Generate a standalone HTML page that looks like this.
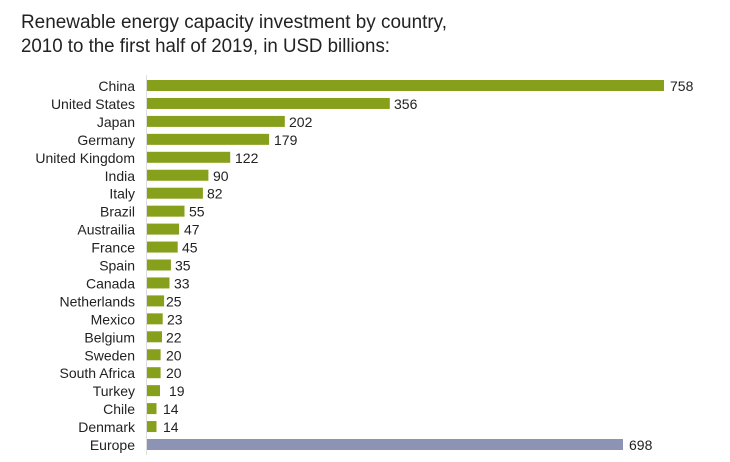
<!DOCTYPE html>
<html>
<head>
<meta charset="utf-8">
<style>
html,body{margin:0;padding:0;background:#fff;}
svg{display:block;}
text{font-family:"Liberation Sans",sans-serif;fill:#222;}
</style>
</head>
<body>
<svg width="730" height="462" viewBox="0 0 730 462" xmlns="http://www.w3.org/2000/svg">
<text x="21" y="28" font-size="19" textLength="426" lengthAdjust="spacingAndGlyphs">Renewable energy capacity investment by country,</text>
<text x="21" y="52" font-size="19" textLength="369" lengthAdjust="spacingAndGlyphs">2010 to the first half of 2019, in USD billions:</text>
<line x1="146.5" y1="75" x2="146.5" y2="455" stroke="#dedede" stroke-width="1"/>
<g font-size="14">
<!-- rows: top = 80 + i*17.95, height 11 -->
<rect x="147" y="80.0" width="517" height="11" fill="#86a01b"/>
<text x="135" y="91.0" text-anchor="end">China</text><text x="670" y="91.0">758</text>

<rect x="147" y="97.95" width="242.8" height="11" fill="#86a01b"/>
<text x="135" y="108.95" text-anchor="end">United States</text><text x="394" y="108.95">356</text>

<rect x="147" y="115.9" width="137.8" height="11" fill="#86a01b"/>
<text x="135" y="126.9" text-anchor="end">Japan</text><text x="289" y="126.9">202</text>

<rect x="147" y="133.85" width="122.1" height="11" fill="#86a01b"/>
<text x="135" y="144.85" text-anchor="end">Germany</text><text x="274" y="144.85">179</text>

<rect x="147" y="151.8" width="83.2" height="11" fill="#86a01b"/>
<text x="135" y="162.8" text-anchor="end">United Kingdom</text><text x="235" y="162.8">122</text>

<rect x="147" y="169.75" width="61.4" height="11" fill="#86a01b"/>
<text x="135" y="180.75" text-anchor="end">India</text><text x="213" y="180.75">90</text>

<rect x="147" y="187.7" width="55.9" height="11" fill="#86a01b"/>
<text x="135" y="198.7" text-anchor="end">Italy</text><text x="207" y="198.7">82</text>

<rect x="147" y="205.65" width="37.5" height="11" fill="#86a01b"/>
<text x="135" y="216.65" text-anchor="end">Brazil</text><text x="189" y="216.65">55</text>

<rect x="147" y="223.6" width="32.1" height="11" fill="#86a01b"/>
<text x="135" y="234.6" text-anchor="end">Austrailia</text><text x="184" y="234.6">47</text>

<rect x="147" y="241.55" width="30.7" height="11" fill="#86a01b"/>
<text x="135" y="252.55" text-anchor="end">France</text><text x="182" y="252.55">45</text>

<rect x="147" y="259.5" width="23.9" height="11" fill="#86a01b"/>
<text x="135" y="270.5" text-anchor="end">Spain</text><text x="175" y="270.5">35</text>

<rect x="147" y="277.45" width="22.5" height="11" fill="#86a01b"/>
<text x="135" y="288.45" text-anchor="end">Canada</text><text x="174" y="288.45">33</text>

<rect x="147" y="295.4" width="17.1" height="11" fill="#86a01b"/>
<text x="135" y="306.4" text-anchor="end">Netherlands</text><text x="166" y="306.4">25</text>

<rect x="147" y="313.35" width="15.7" height="11" fill="#86a01b"/>
<text x="135" y="324.35" text-anchor="end">Mexico</text><text x="167" y="324.35">23</text>

<rect x="147" y="331.3" width="15.0" height="11" fill="#86a01b"/>
<text x="135" y="342.3" text-anchor="end">Belgium</text><text x="166" y="342.3">22</text>

<rect x="147" y="349.25" width="13.6" height="11" fill="#86a01b"/>
<text x="135" y="360.25" text-anchor="end">Sweden</text><text x="166" y="360.25">20</text>

<rect x="147" y="367.2" width="13.6" height="11" fill="#86a01b"/>
<text x="135" y="378.2" text-anchor="end">South Africa</text><text x="166" y="378.2">20</text>

<rect x="147" y="385.15" width="13.0" height="11" fill="#86a01b"/>
<text x="135" y="396.15" text-anchor="end">Turkey</text><text x="169" y="396.15">19</text>

<rect x="147" y="403.1" width="9.5" height="11" fill="#86a01b"/>
<text x="135" y="414.1" text-anchor="end">Chile</text><text x="163" y="414.1">14</text>

<rect x="147" y="421.05" width="9.5" height="11" fill="#86a01b"/>
<text x="135" y="432.05" text-anchor="end">Denmark</text><text x="163" y="432.05">14</text>

<rect x="147" y="439.0" width="476" height="11" fill="#8c93b5"/>
<text x="135" y="450.0" text-anchor="end">Europe</text><text x="629" y="450.0">698</text>
</g>
</svg>
</body>
</html>
